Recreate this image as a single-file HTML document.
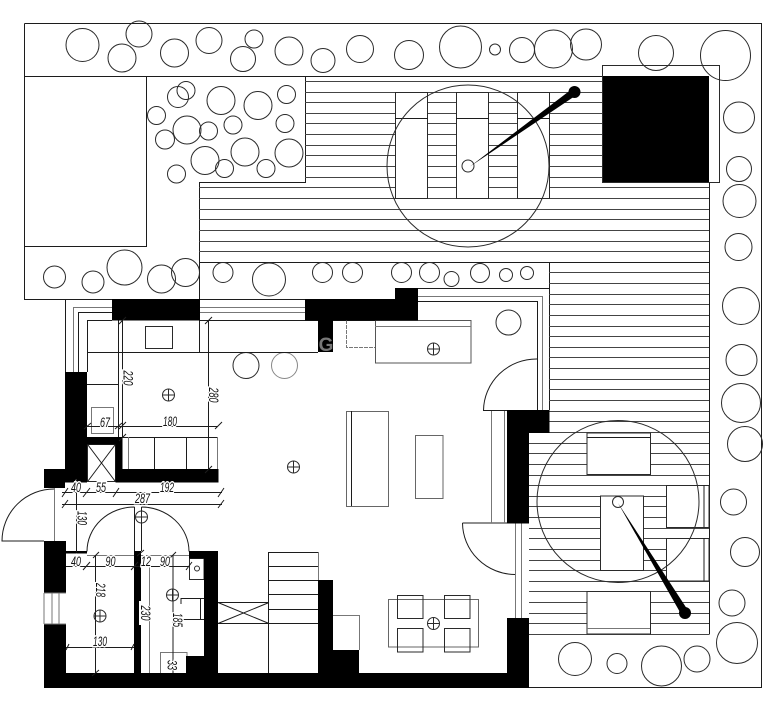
<!DOCTYPE html>
<html><head><meta charset="utf-8">
<style>
html,body{margin:0;padding:0;background:#fff;width:783px;height:721px;overflow:hidden}
svg{display:block}
.k{fill:none;stroke:#1c1c1c;stroke-width:1}
.s{fill:none;stroke:#444;stroke-width:1}
.g{fill:none;stroke:#777;stroke-width:1}
.c{fill:none;stroke:#2a2a2a;stroke-width:1}
.w{fill:#fff;stroke:#2a2a2a;stroke-width:1}
.wg{fill:#fff;stroke:#666;stroke-width:1}
.b{fill:#000;stroke:none}
text{font-family:"Liberation Sans",sans-serif;font-style:italic;font-size:13.5px;fill:#111;text-anchor:middle;paint-order:stroke;stroke:#fff;stroke-width:3px}
</style></head><body>
<svg width="783" height="721" viewBox="0 0 783 721" xmlns="http://www.w3.org/2000/svg">
<rect width="783" height="721" fill="#fff"/>
<!-- boundary -->
<path class="k" d="M24.5 23.5H761.5V687.5H529M24.5 23.5V299.5H112M24.5 76.5H602M24.5 246.5H146.5V76.5M305.5 76.5V182.5H199.5V299M199 299.5H305M418 288.5H549.5M549.5 262V410M709.5 182V634.5M199 262.5H709"/>
<!-- deck stripes -->
<path class="s" d="M305 81.5H602M305 92.5H602M305 102.5H602M305 113.5H602M305 123.5H602M305 134.5H602M305 145.5H602M305 155.5H602M305 166.5H602M305 177.5H602M199 187.5H709M199 198.5H709M199 209.5H709M199 219.5H709M199 230.5H709M199 241.5H709M199 251.5H709M549 272.5H709M549 283.5H709M549 294.5H709M549 304.5H709M549 315.5H709M549 326.5H709M549 336.5H709M549 347.5H709M549 357.5H709M549 368.5H709M549 379.5H709M549 389.5H709M549 400.5H709M549 411.5H709M549 421.5H709M529 432.5H709M529 443.5H709M529 453.5H709M529 464.5H709M529 475.5H709M529 485.5H709M529 496.5H709M529 506.5H709M529 517.5H709M529 528.5H709M529 538.5H709M529 549.5H709M529 560.5H709M529 570.5H709M529 581.5H709M529 591.5H709M529 602.5H709M529 613.5H709M529 623.5H709M529 634.5H709"/>
<!-- top tables -->
<rect class="w" x="395.5" y="92.5" width="32" height="106"/>
<rect class="w" x="456.5" y="92.5" width="32" height="106"/>
<rect class="w" x="517.5" y="92.5" width="32" height="106"/>
<path class="k" d="M395 118.5H428M456 118.5H489M517 118.5H550"/>
<rect class="b" x="602" y="76" width="107" height="106.5"/>
<rect class="c" x="602.5" y="65.5" width="117" height="117"/>
<circle class="c" cx="468" cy="166" r="81"/>
<circle class="c" cx="468" cy="166" r="6"/>
<path class="b" d="M470 166.5L572 89L576.500 95Z"/>
<circle class="b" cx="574.500" cy="92" r="6"/>
<!-- lower lounge -->
<rect class="w" x="587" y="433" width="63.500" height="41.500"/>
<path class="k" d="M587 437.500H650"/>
<rect class="w" x="600.500" y="496" width="43" height="74.500"/>
<rect class="w" x="666.500" y="485.500" width="42.500" height="42"/>
<rect class="w" x="666.500" y="538.500" width="42.500" height="42.500"/>
<path class="k" d="M704 485V527M704 538V581"/>
<rect class="w" x="587" y="591.500" width="63.500" height="42.500"/>
<path class="g" d="M587 628.500H650"/>
<circle class="c" cx="618" cy="501.500" r="81"/>
<circle class="c" cx="618" cy="502" r="5.500"/>
<path class="b" d="M618 503L681.600 615L688.400 611Z"/>
<circle class="b" cx="685" cy="613" r="6"/>
<!-- plants -->
<g class="c">
<circle cx="82.500" cy="45" r="16.500"/><circle cx="122" cy="58" r="14"/><circle cx="139" cy="34" r="13"/><circle cx="174.500" cy="53" r="14"/><circle cx="209" cy="40.500" r="13"/><circle cx="254" cy="39" r="9"/><circle cx="243" cy="59" r="12.500"/><circle cx="289" cy="51" r="14"/><circle cx="323" cy="60.500" r="12"/><circle cx="360" cy="49" r="13.500"/><circle cx="409" cy="55" r="14.500"/><circle cx="460.500" cy="47" r="21"/><circle cx="495" cy="49.500" r="5.500"/><circle cx="522" cy="50" r="12.500"/><circle cx="553.500" cy="49" r="19"/><circle cx="586" cy="44.500" r="15.500"/><circle cx="656" cy="53" r="17.500"/><circle cx="725.500" cy="55.500" r="25"/>
<circle cx="739" cy="117.500" r="15.500"/><circle cx="739" cy="169" r="12.500"/><circle cx="739.500" cy="201" r="16.500"/><circle cx="738.500" cy="247" r="13.500"/><circle cx="741" cy="306" r="18.500"/><circle cx="741.500" cy="360" r="15.500"/><circle cx="741" cy="403" r="19.500"/><circle cx="745" cy="444" r="17.500"/><circle cx="733.500" cy="502" r="13"/><circle cx="745" cy="552" r="14.500"/><circle cx="732" cy="603" r="13"/><circle cx="737" cy="643" r="20.500"/>
<circle cx="575" cy="659" r="16.500"/><circle cx="617" cy="663.500" r="10"/><circle cx="661.500" cy="666" r="20"/><circle cx="697" cy="659" r="13"/>
<circle cx="178" cy="97" r="10.500"/><circle cx="186" cy="90.500" r="9"/><circle cx="221" cy="100.500" r="14"/><circle cx="258" cy="105.500" r="14"/><circle cx="286.500" cy="94.500" r="9"/><circle cx="156.500" cy="115.500" r="9"/><circle cx="187" cy="130" r="14"/><circle cx="208.500" cy="131" r="9"/><circle cx="233" cy="125" r="9"/><circle cx="285" cy="123.500" r="9"/><circle cx="165" cy="139.500" r="9.500"/><circle cx="205" cy="160.500" r="14"/><circle cx="245" cy="152" r="14"/><circle cx="289" cy="153" r="14"/><circle cx="224.500" cy="168.500" r="9"/><circle cx="266" cy="168.500" r="9"/><circle cx="176.500" cy="174" r="9"/>
<circle cx="54.500" cy="277" r="11"/><circle cx="93" cy="282" r="11"/><circle cx="124.500" cy="267.500" r="17.500"/><circle cx="161.500" cy="279" r="14"/><circle cx="185.500" cy="272.500" r="14"/><circle cx="223" cy="272.500" r="10"/><circle cx="269" cy="279.500" r="16.500"/><circle cx="322.500" cy="272.500" r="10"/><circle cx="352.500" cy="272.500" r="10"/><circle cx="401.500" cy="272.500" r="10"/><circle cx="429.500" cy="272.500" r="10"/><circle cx="451.500" cy="279" r="7.500"/><circle cx="480" cy="273" r="9.500"/><circle cx="506" cy="275" r="6.500"/><circle cx="527" cy="273" r="6.500"/>
<circle cx="508.500" cy="322.500" r="12.500"/><circle cx="246" cy="365.500" r="13"/><circle cx="284.500" cy="365.500" r="13" stroke="#888"/>
</g>
<!-- building outlines -->
<path class="k" d="M65.500 299V372M78.500 312V372M78 312.500H112M87.500 320.500V372M87 320.500H112M200 320.500H318M87 352.500H318M118.500 320V437M199.500 320V352M87 384.500H118M418 301.500H537.500V410M333 320.500H375"/>
<path class="g" d="M73.500 307V372M73 307.500H112M200 307.500H305M200 312.500H305M418 296.500H542.500V410"/>
<rect class="c" x="145.500" y="326.500" width="27" height="22"/>
<rect class="g" x="91.500" y="407.500" width="22" height="26"/>
<path class="g" d="M346.500 320V347.500H375" stroke-dasharray="4 1"/>
<rect class="w" x="375.500" y="320.500" width="95.500" height="42.500" style="stroke:#555"/>
<path class="g" d="M375 326.500H471"/>
<!-- living furniture -->
<rect class="wg" x="346.500" y="411.500" width="42" height="95"/>
<path class="k" d="M351.500 411V506"/>
<rect class="wg" x="415.500" y="435.500" width="27.500" height="63"/>
<rect class="wg" x="388.500" y="599.500" width="90" height="47.500"/>
<g class="c"><rect x="397.500" y="595.500" width="25.500" height="23"/><rect x="444.500" y="595.500" width="25.500" height="23"/><rect x="397.500" y="628.500" width="25.500" height="23.500"/><rect x="444.500" y="628.500" width="25.500" height="23.500"/></g>
<!-- doors -->
<path class="k" d="M537 359A53 52 0 0 0 483.500 410.500H507M462.500 523H507M462.500 523A53 52 0 0 0 515 574.500M54.500 489A52 52 0 0 0 2 541H44"/>
<path class="g" d="M491.500 411V523M504.500 411V523M515.500 523V618M521.500 523V618M54.500 488V541"/>
<path class="k" d="M134.500 507V551M134.500 507A47.500 44.500 0 0 0 87 551.500M141.500 507V551M141.500 507A48 44.500 0 0 1 189 551.500"/>
<!-- stairs -->
<path class="k" d="M269 552.500H318.500M269 566.500H318.500M269 580.500H318.500M269 594.500H318M269 609.500H318M269 623.500H318M268.500 552V673M218 602.500H269M218 623.500H269M218 602.500L269 623.500M218 623.500L269 602.500"/>
<path class="g" d="M318.500 552V580M333 615.500H359.500V650"/>
<!-- cabinets -->
<path class="k" d="M122 437.500H218M154.500 437V469M186.500 437V469"/>
<path class="g" d="M217.500 437V469M128.500 437V469"/>
<rect class="w" x="87.500" y="444.500" width="28" height="37"/>
<path class="k" d="M88 445L115 481M115 445L88 481"/>
<path class="k" d="M181 598.500H204M181 598V604M181 619.500H204M200.500 598V619"/>
<rect class="g" x="160.500" y="652.500" width="26.500" height="21"/>
<path class="g" d="M149.500 565V673M87 555.500H134M141 555.500H189"/>
<rect class="c" x="189.500" y="558.500" width="14.500" height="21"/>
<circle class="c" cx="197" cy="568.500" r="2.500"/>
<!-- walls -->
<g class="b">
<rect x="112" y="299" width="88" height="21.500"/>
<rect x="305" y="299" width="113" height="21.500"/>
<rect x="395" y="288" width="23" height="11"/>
<rect x="318" y="320" width="15" height="32"/>
<rect x="65" y="372" width="22" height="110"/>
<rect x="44" y="469" width="21" height="19"/>
<rect x="65" y="469" width="22" height="13.500"/>
<rect x="87" y="437" width="35" height="7.500"/>
<rect x="115.500" y="437" width="7" height="45.500"/>
<rect x="115.500" y="469" width="103" height="13.500"/>
<rect x="44" y="541" width="22" height="52"/>
<rect x="44" y="624" width="22" height="64"/>
<rect x="44" y="673" width="485" height="15"/>
<rect x="66" y="551" width="21" height="2.500"/>
<rect x="134" y="551" width="7" height="122"/>
<rect x="189" y="551" width="29" height="7.500"/>
<rect x="204" y="551" width="14" height="122"/>
<rect x="186" y="656" width="32" height="17"/>
<rect x="318" y="580" width="15" height="93"/>
<rect x="333" y="650" width="26" height="23"/>
<rect x="507" y="410" width="22" height="113.500"/>
<rect x="529" y="410" width="20.500" height="23"/>
<rect x="507" y="618" width="22" height="70"/>
</g>
<path class="g" d="M44 593V624M52 593V624M59 593V624M44 624H66M44 593H66"/>
<rect x="139" y="601" width="2.500" height="24" fill="#fff"/>
<!-- dimensions -->
<path class="k" d="M122.500 320V437M208.500 320V469M87 426.500H218M62 492.500H222M62 504.500H222M76.500 492V552M66 566.500H189M95.500 555V673M66 647.500H134M173 555V673"/>
<path class="k" d="M119 324L126 317M205 324L212 317M119 429L126 422M215 429L222 422M84 429L91 423M115 429L122 423M119 441L126 434M205 473L212 466M62 497L68 488M83 497L90 488M113 497L119 488M218 497L224 488M62 508L68 500M218 508L224 500M83 570L90 562M131 570L138 562M186 570L192 562M93 558L99 552M170 558L176 552M137 556L144 550M92 676L99 670M66 650L69 644M131 650L134 644"/>
<g lengthAdjust="spacingAndGlyphs">
<text x="170" y="426" textLength="14" lengthAdjust="spacingAndGlyphs">180</text>
<text x="105" y="427" textLength="10" lengthAdjust="spacingAndGlyphs">67</text>
<text x="76" y="492" textLength="10" lengthAdjust="spacingAndGlyphs">40</text>
<text x="101" y="492" textLength="10" lengthAdjust="spacingAndGlyphs">55</text>
<text x="167" y="492" textLength="14" lengthAdjust="spacingAndGlyphs">192</text>
<text x="142.500" y="503" textLength="15" lengthAdjust="spacingAndGlyphs">287</text>
<text x="76" y="566" textLength="10" lengthAdjust="spacingAndGlyphs">40</text>
<text x="110.500" y="566" textLength="10" lengthAdjust="spacingAndGlyphs">90</text>
<text x="146" y="566" textLength="10" lengthAdjust="spacingAndGlyphs">12</text>
<text x="165" y="566" textLength="10" lengthAdjust="spacingAndGlyphs">90</text>
<text x="100" y="646" textLength="14" lengthAdjust="spacingAndGlyphs">130</text>
<text transform="translate(123.500 378) rotate(90)" textLength="15" lengthAdjust="spacingAndGlyphs">220</text>
<text transform="translate(209 395) rotate(90)" textLength="15" lengthAdjust="spacingAndGlyphs">280</text>
<text transform="translate(77.500 518) rotate(90)" textLength="14" lengthAdjust="spacingAndGlyphs">130</text>
<text transform="translate(96 590) rotate(90)" textLength="14" lengthAdjust="spacingAndGlyphs">218</text>
<text transform="translate(141 613) rotate(90)" textLength="15" lengthAdjust="spacingAndGlyphs">230</text>
<text transform="translate(173 620) rotate(90)" textLength="14" lengthAdjust="spacingAndGlyphs">185</text>
<text transform="translate(167.500 665) rotate(90)" textLength="10" lengthAdjust="spacingAndGlyphs">33</text>
</g>
<!-- ceiling lights -->
<g class="c">
<g transform="translate(168.500 395)"><circle r="6"/><path d="M-6 0H6M0 -6V6"/></g>
<g transform="translate(293.500 467)"><circle r="6"/><path d="M-6 0H6M0 -6V6"/></g>
<g transform="translate(433.500 349)"><circle r="6"/><path d="M-6 0H6M0 -6V6"/></g>
<g transform="translate(141.500 517)"><circle r="6"/><path d="M-6 0H6M0 -6V6"/></g>
<g transform="translate(100 616)"><circle r="6"/><path d="M-6 0H6M0 -6V6"/></g>
<g transform="translate(172.500 595)"><circle r="6"/><path d="M-6 0H6M0 -6V6"/></g>
<g transform="translate(433.500 623.500)"><circle r="6"/><path d="M-6 0H6M0 -6V6"/></g>
</g>
<text x="326" y="351" style="font-style:normal;font-weight:bold;font-size:19px;fill:#777;stroke:none">G</text>
</svg>
</body></html>
